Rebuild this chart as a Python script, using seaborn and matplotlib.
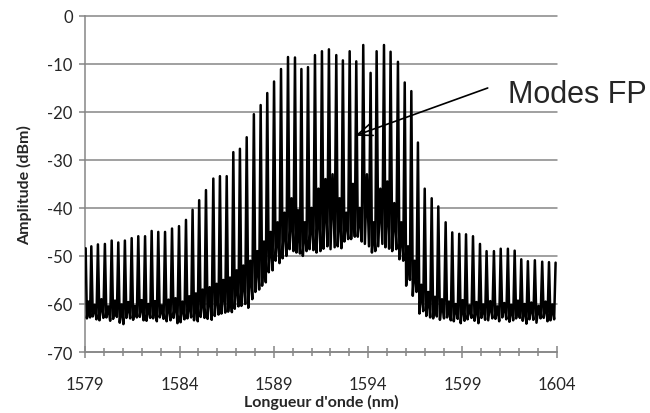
import matplotlib
matplotlib.use("Agg")
import matplotlib.pyplot as plt
from matplotlib.ticker import MultipleLocator
import numpy as np
import pandas as pd
import seaborn as sns

# ---------------- data ----------------
peak_nm = [1579.02, 1579.32, 1579.67, 1580.04, 1580.40, 1580.75, 1581.10, 1581.46, 1581.81, 1582.17,
           1582.52, 1582.87, 1583.23, 1583.60, 1583.97, 1584.34, 1584.69, 1585.04, 1585.40, 1585.79,
           1586.14, 1586.50, 1586.85, 1587.20, 1587.56, 1587.94, 1588.30, 1588.65, 1589.01, 1589.38,
           1589.75, 1590.12, 1590.46, 1590.81, 1591.18, 1591.55, 1591.92, 1592.31, 1592.66, 1593.02,
           1593.37, 1593.74, 1594.13, 1594.45, 1594.84, 1595.19, 1595.58, 1595.94, 1596.29, 1596.64,
           1597.00, 1597.37, 1597.72, 1598.11, 1598.46, 1598.83, 1599.19, 1599.56, 1599.93, 1600.28,
           1600.67, 1601.03, 1601.41, 1601.77, 1602.12, 1602.47, 1602.84, 1603.23, 1603.59, 1603.94]

peak_dbm = [-48.4, -48.0, -47.6, -47.5, -46.8, -47.2, -46.8, -46.3, -45.9, -45.9,
            -44.8, -45.0, -45.0, -44.3, -43.8, -42.5, -40.4, -38.4, -36.3, -33.9,
            -33.4, -33.4, -28.4, -27.7, -25.3, -20.5, -18.6, -16.1, -13.7, -11.1,
            -8.6, -8.7, -11.1, -10.7, -8.2, -7.4, -7.0, -8.2, -9.3, -7.4,
            -9.5, -6.1, -11.9, -7.4, -6.1, -7.5, -9.6, -13.9, -15.7, -26.4,
            -36.0, -38.0, -39.7, -43.0, -45.1, -45.4, -45.5, -45.9, -47.5, -49.0,
            -49.0, -48.5, -48.5, -48.9, -50.7, -51.1, -50.9, -51.2, -51.3, -51.4]

# valley after each peak: first minimum, small bump, second minimum
trough_a_dbm = [-63.0, -62.6, -63.4, -62.8, -63.1, -63.9, -62.9, -63.3, -62.7, -63.5,
                -63.0, -62.8, -63.6, -62.9, -63.8, -63.0, -63.4, -62.7, -63.1, -62.5,
                -62.0, -61.6, -61.0, -60.4, -60.8, -57.5, -56.2, -53.4, -51.0, -50.5,
                -48.6, -49.3, -50.0, -48.6, -49.3, -48.5, -48.6, -48.0, -47.0, -46.5,
                -46.0, -47.5, -49.3, -48.0, -48.2, -49.0, -50.7, -56.2, -58.3, -62.0,
                -62.5, -63.0, -63.3, -62.8, -63.6, -64.0, -63.2, -63.5, -62.9, -63.4,
                -63.1, -62.8, -63.7, -63.0, -63.5, -63.2, -63.9, -62.9, -63.4]

bump_dbm = [-59.5, -60.2, -59.0, -60.5, -59.3, -60.1, -59.6, -60.4, -59.2, -60.0,
            -59.4, -60.3, -59.1, -58.8, -59.5, -58.4, -57.8, -57.0, -56.5, -55.8,
            -55.0, -54.5, -53.0, -52.0, -51.0, -49.0, -47.0, -45.0, -43.0, -41.0,
            -38.0, -40.5, -43.0, -40.0, -36.0, -34.0, -33.0, -38.0, -41.0, -35.0,
            -40.0, -33.0, -43.0, -36.0, -34.5, -39.0, -43.0, -48.0, -51.0, -56.0,
            -57.5, -58.5, -59.0, -59.5, -60.0, -59.2, -60.3, -59.6, -60.1, -59.4,
            -60.5, -59.8, -60.2, -59.3, -60.0, -59.7, -60.4, -59.5, -60.1]

trough_b_dbm = [-62.8, -63.2, -62.9, -63.5, -62.7, -64.2, -63.0, -62.8, -63.4, -62.9,
                -63.6, -63.1, -63.4, -64.0, -63.2, -62.8, -63.6, -62.9, -63.3, -62.2,
                -61.8, -61.7, -60.5, -60.0, -59.0, -57.0, -55.5, -53.0, -51.5, -50.0,
                -49.0, -49.5, -49.0, -48.8, -49.0, -48.0, -48.2, -48.4, -46.5, -46.0,
                -47.0, -48.0, -49.0, -47.5, -48.5, -48.6, -51.0, -55.0, -57.5, -61.5,
                -62.8, -62.6, -63.0, -63.4, -63.1, -63.5, -62.9, -64.0, -63.3, -63.0,
                -63.6, -63.2, -63.4, -62.9, -64.1, -63.3, -63.0, -63.6, -63.2]

x_ticks = [1579, 1584, 1589, 1594, 1599, 1604]
x_tick_labels = ["1579", "1584", "1589", "1594", "1599", "1604"]
y_ticks = [-70, -60, -50, -40, -30, -20, -10, 0]
y_tick_labels = ["-70", "-60", "-50", "-40", "-30", "-20", "-10", "0"]

x_label = "Longueur d'onde (nm)"
y_label = "Amplitude (dBm)"
annotation_text = "Modes FP"

# ---------------- build trace ----------------
nm_pts, db_pts = [], []
for i in range(len(peak_nm)):
    nm_pts.append(peak_nm[i]); db_pts.append(peak_dbm[i])
    if i < len(peak_nm) - 1:
        gap = peak_nm[i + 1] - peak_nm[i]
        for frac, val in zip((0.22, 0.5, 0.78), (trough_a_dbm[i], bump_dbm[i], trough_b_dbm[i])):
            nm_pts.append(peak_nm[i] + frac * gap)
            db_pts.append(val)
df = pd.DataFrame({"nm": nm_pts, "dbm": db_pts})

# ---------------- style ----------------
sns.set_theme(style="white")
plt.rcParams['font.family'] = ['Lato', 'DejaVu Sans']
grey = "#868686"

fig = plt.figure(figsize=(6.5, 4.14), dpi=100)
ax = fig.add_axes([0.1312, 0.1473, 0.8565 - 0.1312, 0.9597 - 0.1473])

sns.lineplot(data=df, x="nm", y="dbm", sort=False, estimator=None,
             color="black", linewidth=1.8, ax=ax, zorder=3)

ax.set_xlim(1579, 1604)
ax.set_ylim(-70, 0)
ax.set_xticks(x_ticks)
ax.set_xticklabels(x_tick_labels)
ax.set_yticks(y_ticks)
ax.set_yticklabels(y_tick_labels)
ax.xaxis.set_minor_locator(MultipleLocator(1))

ax.yaxis.grid(True, color=grey, linewidth=1.1)
ax.xaxis.grid(False)
for gl in ax.get_ygridlines():
    gl.set_clip_on(False)

for side in ("top", "right"):
    ax.spines[side].set_visible(False)
for side in ("left", "bottom"):
    ax.spines[side].set_color(grey)
    ax.spines[side].set_linewidth(1.1)

ax.tick_params(axis="x", which="major", direction="inout", length=8, width=1.1,
               color=grey, labelsize=12, pad=13, bottom=True)
ax.tick_params(axis="x", which="minor", direction="inout", length=6, width=1.1,
               color=grey, bottom=True)
ax.tick_params(axis="y", which="major", direction="out", length=4, width=1.1,
               color=grey, labelsize=12, pad=5, left=True)

ax.set_xlabel(x_label, fontsize=11.5, fontweight="bold", labelpad=2)
ax.set_ylabel(y_label, fontsize=11.5, fontweight="bold", labelpad=11)

ax.annotate("", xy=(1593.3, -25.0), xytext=(1600.34, -15.05),
            arrowprops=dict(arrowstyle="->,head_length=0.9,head_width=0.35",
                            color="black", lw=1.2, shrinkA=0, shrinkB=0),
            annotation_clip=False, zorder=5)
ax.text(1601.42, -16.3, annotation_text, fontsize=22, family=["Liberation Sans", "DejaVu Sans"],
        ha="left", va="center", clip_on=False)

fig.savefig("out.png", dpi=100)
